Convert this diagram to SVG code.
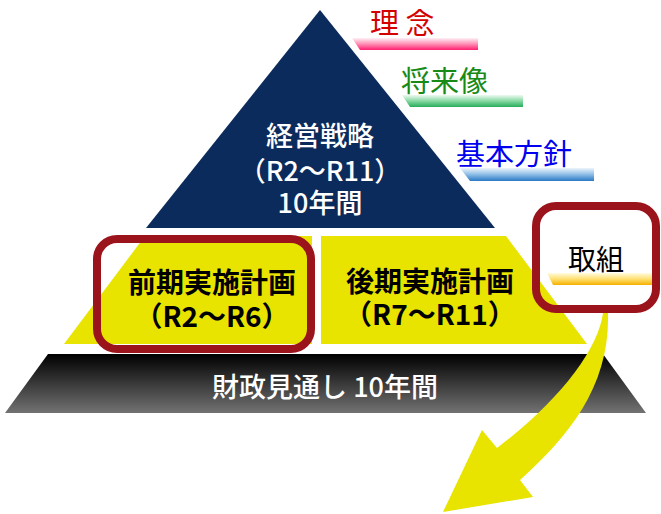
<svg xmlns="http://www.w3.org/2000/svg" width="661" height="514" viewBox="0 0 661 514">
<defs>
<linearGradient id="gBlack" x1="0" y1="0" x2="0" y2="1"><stop offset="0" stop-color="#000"/><stop offset="1" stop-color="#727272"/></linearGradient>
<linearGradient id="gPink" x1="0" y1="0" x2="0" y2="1"><stop offset="0" stop-color="#fff0f5"/><stop offset="0.5" stop-color="#ff8fb5"/><stop offset="1" stop-color="#ff2070"/></linearGradient>
<linearGradient id="gGreen" x1="0" y1="0" x2="0" y2="1"><stop offset="0" stop-color="#eefaf2"/><stop offset="0.5" stop-color="#86d8a2"/><stop offset="1" stop-color="#25ad5a"/></linearGradient>
<linearGradient id="gBlue" x1="0" y1="0" x2="0" y2="1"><stop offset="0" stop-color="#eef5fc"/><stop offset="0.5" stop-color="#8cbde6"/><stop offset="1" stop-color="#2a78c4"/></linearGradient>
<linearGradient id="gOrange" x1="0" y1="0" x2="0" y2="1"><stop offset="0" stop-color="#fffbe0"/><stop offset="0.5" stop-color="#ffe070"/><stop offset="1" stop-color="#f5b000"/></linearGradient>
</defs>
<style>
text{font-family:"Noto Sans CJK JP","Noto Sans",sans-serif;text-anchor:middle}
.w{fill:#fff;font-weight:500;font-size:27px}
.k{fill:#000;font-weight:bold;font-size:28px}
.lab{font-size:29px;text-anchor:start}
.frame{fill:none;stroke:#9b141c;stroke-width:8}
.yel{fill:#e8e400}
</style>
<g id="finance">
<polygon points="48,354 603,354 646,413 5,413" fill="url(#gBlack)"/>
<text class="w" x="325" y="397" font-size="29">財政見通し 10年間</text>
</g>
<g id="strategy">
<polygon points="320,10 495,228 146,228" fill="#0b2b5c"/>
<text class="w" x="320" y="146">経営戦略</text>
<text class="w" x="320" y="181">（R2～R11）</text>
<text class="w" x="320" y="213">10年間</text>
</g>
<g id="later">
<polygon class="yel" points="321,236 506,236 587,344 321,344"/>
<text class="k" x="430" y="292">後期実施計画</text>
<text class="k" x="430" y="325">（R7～R11）</text>
</g>
<g id="earlier">
<polygon class="yel" points="145,236 312,236 312,344 64,344"/>
<rect class="frame" x="97" y="239" width="214" height="110" rx="20"/>
<text class="k" x="212" y="293">前期実施計画</text>
<text class="k" x="212" y="327">（R2～R6）</text>
</g>
<g id="connectors">
<path class="yel" d="M603,313 C598,350 560,400 497,448 L482,430 L443,512 L533,497 L520,480 C570,435 610,385 608,313 Z"/>
</g>
<g id="torikumi">
<rect class="frame" x="536" y="206" width="120" height="103" rx="20"/>
<polygon points="547,273 652,273 652,285 553,285" fill="url(#gOrange)"/>
<text x="596" y="270" font-size="28" fill="#000">取組</text>
</g>
<g id="rinen">
<polygon points="352,38 478,38 478,50 360,50" fill="url(#gPink)"/>
<text class="lab" x="370" y="34" fill="#d40000">理 念</text>
</g>
<g id="shoraizo">
<polygon points="402,95 523,95 523,107 410,107" fill="url(#gGreen)"/>
<text class="lab" x="401" y="92" fill="#178a17">将来像</text>
</g>
<g id="hoshin">
<polygon points="460,168 594,168 594,181 470,181" fill="url(#gBlue)"/>
<text class="lab" x="456" y="165" fill="#0000ee">基本方針</text>
</g>
</svg>
